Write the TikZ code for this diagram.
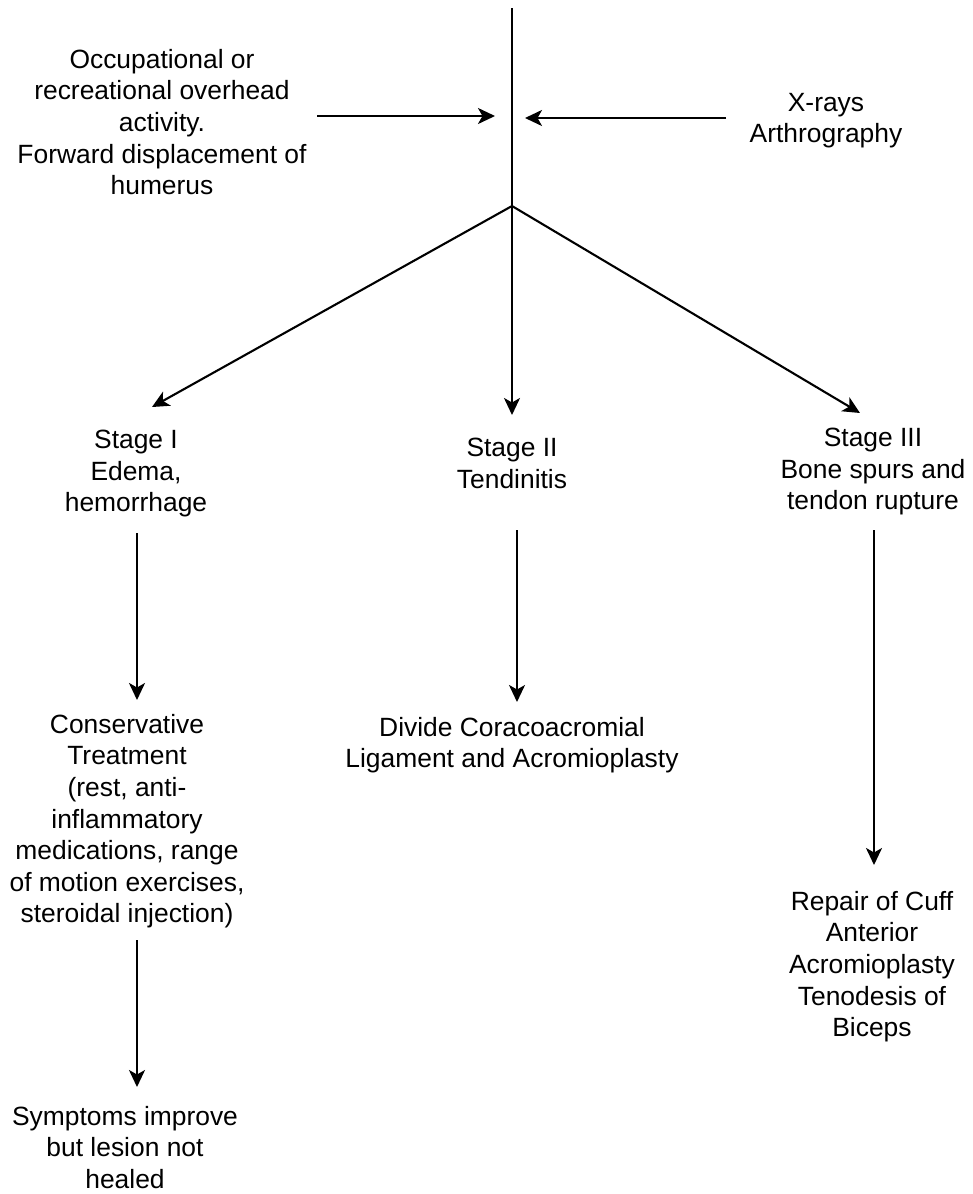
\documentclass[tikz,border=0pt]{standalone}
\usepackage{fontspec}
\setmainfont{Liberation Sans}
\usetikzlibrary{arrows.meta}
\begin{document}
\begin{tikzpicture}[x=1pt,y=-1pt,
  txt/.style={align=center,inner sep=0pt,anchor=north,font=\fontsize{26.4}{31.6}\selectfont},
  conn/.style={line width=2.1pt},
  arr/.style={conn,-{Stealth[length=17pt,width=16pt,inset=4.5pt]}}]
\useasboundingbox (0,0) rectangle (972,1194);
% text blocks (north = first baseline - 19)
\node[txt] (cause) at (162,49) {Occupational or\\recreational overhead\\activity.\\Forward displacement of\\humerus};
\node[txt] (diag) at (826,93) {X-rays\\Arthrography};
\node[txt] (s1) at (136,430) {Stage I\\Edema,\\hemorrhage};
\node[txt] (s2) at (512,438) {Stage II\\Tendinitis};
\node[txt] (s3) at (873,428) {Stage III\\Bone spurs and\\tendon rupture};
\node[txt] (cons) at (127,714) {Conservative\\Treatment\\(rest, anti-\\inflammatory\\medications, range\\of motion exercises,\\steroidal injection)};
\node[txt] (sym) at (125,1106) {Symptoms improve\\but lesion not\\healed};
\node[txt] (div) at (512,717) {Divide Coracoacromial\\Ligament and Acromioplasty};
\node[txt] (rep) at (872,891) {Repair of Cuff\\Anterior\\Acromioplasty\\Tenodesis of\\Biceps};
% connector end points
\coordinate (top) at (512,8);
\coordinate (br) at (512,206);
\coordinate (t1) at (152,407);
\coordinate (t2) at (512,415);
\coordinate (t3) at (860,413);
\coordinate (lin0) at (317,116);
\coordinate (lin1) at (495,116);
\coordinate (rin0) at (726,118);
\coordinate (rin1) at (525,118);
\coordinate (a0) at (137,533);
\coordinate (a1) at (137,700);
\coordinate (b0) at (517,530);
\coordinate (b1) at (517,702);
\coordinate (c0) at (874,530);
\coordinate (c1) at (874,865);
\coordinate (d0) at (137,940);
\coordinate (d1) at (137,1087);
% connectors
\draw[arr] (top) -- (t2);
\draw[arr] (br) -- (t1);
\draw[arr] (br) -- (t3);
\draw[arr] (lin0) -- (lin1);
\draw[arr] (rin0) -- (rin1);
\draw[arr] (a0) -- (a1);
\draw[arr] (b0) -- (b1);
\draw[arr] (c0) -- (c1);
\draw[arr] (d0) -- (d1);
\end{tikzpicture}
\end{document}
